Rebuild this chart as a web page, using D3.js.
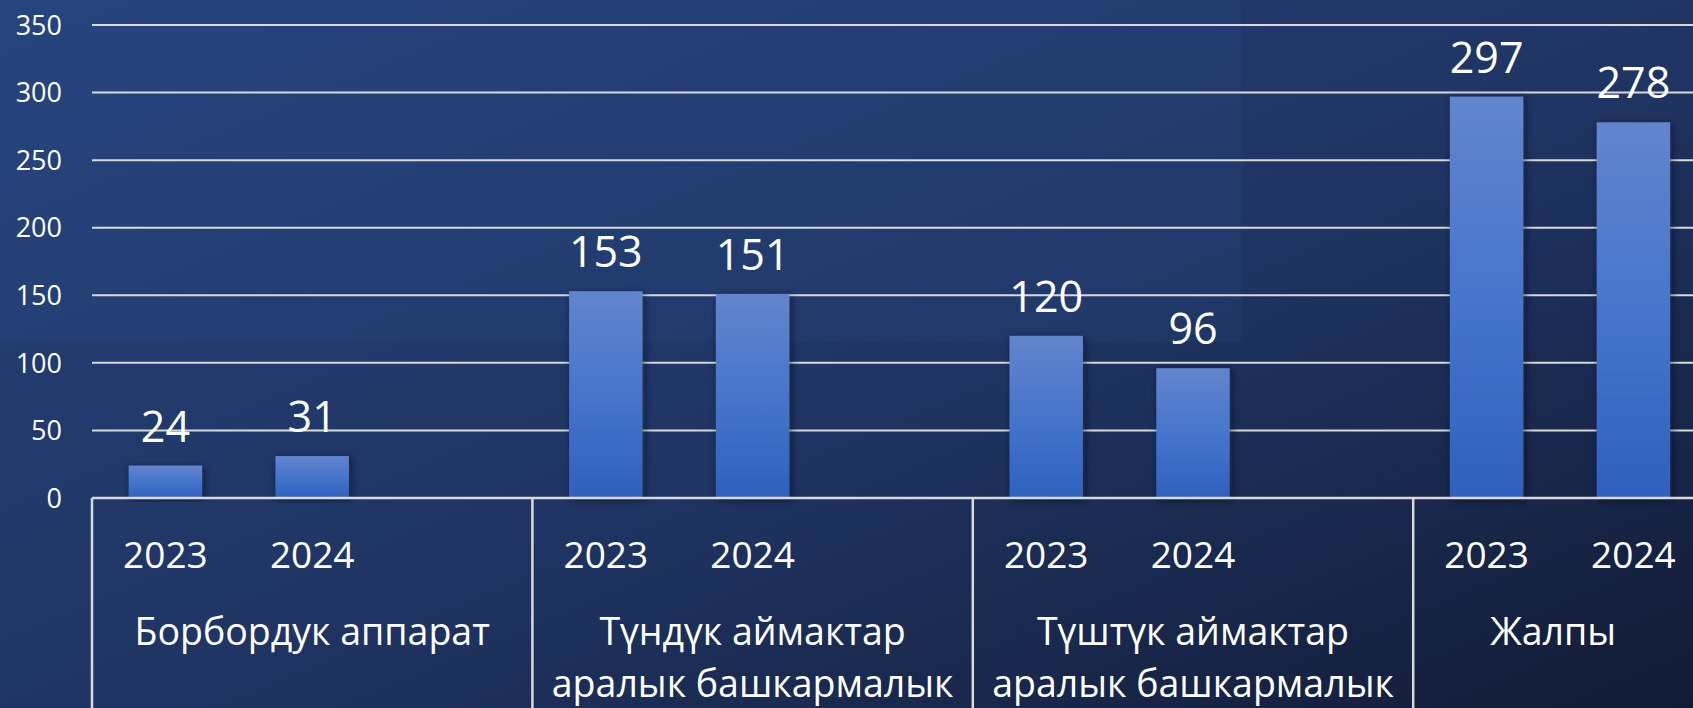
<!DOCTYPE html>
<html>
<head>
<meta charset="utf-8">
<script src="https://cdn.jsdelivr.net/npm/d3@7"></script>
<style>
  html, body { margin: 0; padding: 0; overflow: hidden; background: #1c2f58; }
  text { font-family: "Open Sans", "Noto Sans", sans-serif; fill: #ffffff; }
</style>
</head>
<body>
<div id="chart"></div>
<script>
// chart data
const categories = ["Борбордук аппарат", "Түндүк аймактар|аралык башкармалык", "Түштүк аймактар|аралык башкармалык", "Жалпы"];
const years = ["2023", "2024", ""];   // third slot is empty in the original chart
const values2023 = [24, 153, 120, 297];
const values2024 = [31, 151, 96, 278];
const yTicks = [0, 50, 100, 150, 200, 250, 300, 350];

const width = 1693, height = 708;
const left = 92, slotW = 146.8;
const right = left + slotW * years.length * categories.length;   // runs past the window, like the original
const yTop = 25, yBase = 498;

var svg = d3.select("#chart").append("svg")
    .attr("width", width)
    .attr("height", height);

var defs = svg.append("defs");

//background gradient
var bg = defs.append("linearGradient").attr("id", "bg")
    .attr("x1", 0).attr("y1", 0).attr("x2", 1).attr("y2", 1);
bg.append("stop").attr("offset", 0).attr("stop-color", "#25417a");
bg.append("stop").attr("offset", 0.55).attr("stop-color", "#1f3462");
bg.append("stop").attr("offset", 1).attr("stop-color", "#121b35");

//bar gradient
var barGrad = defs.append("linearGradient").attr("id", "barGrad")
    .attr("x1", 0).attr("y1", 0).attr("x2", 0).attr("y2", 1);
barGrad.append("stop").attr("offset", 0).attr("stop-color", "#6285cd");
barGrad.append("stop").attr("offset", 0.5).attr("stop-color", "#4675cb");
barGrad.append("stop").attr("offset", 1).attr("stop-color", "#2f60bd");

var shadow = defs.append("filter").attr("id", "shadow")
    .attr("x", "-30%").attr("y", "-10%").attr("width", "160%").attr("height", "120%");
shadow.append("feDropShadow")
    .attr("dx", 2).attr("dy", 2).attr("stdDeviation", 4)
    .attr("flood-color", "#0a1226").attr("flood-opacity", 0.6);

svg.append("rect").attr("width", width).attr("height", height).attr("fill", "url(#bg)");
//lighter panel in the top left of the slide
svg.append("rect").attr("x", 0).attr("y", 0).attr("width", 1241).attr("height", 342)
    .attr("fill", "#3a64a8").attr("opacity", 0.11);

//scales
var xGroup = d3.scaleBand()
    .domain(categories)
    .range([left, right]);

var xSlot = d3.scaleBand()
    .domain(years.map((d, i) => i))
    .range([0, xGroup.bandwidth()])
    .paddingInner(0.5)
    .paddingOuter(0.25);

var y = d3.scaleLinear()
    .domain([0, 350])
    .range([yBase, yTop]);

//gridlines
svg.append("g")
    .selectAll("line")
    .data(yTicks.filter(d => d > 0))
    .enter()
    .append("line")
        .attr("x1", left)
        .attr("x2", width)
        .attr("y1", d => y(d))
        .attr("y2", d => y(d))
        .attr("stroke", "#d9d9d9")
        .attr("stroke-width", 2);

//y axis labels
svg.append("g")
    .selectAll("text")
    .data(yTicks)
    .enter()
    .append("text")
        .attr("x", 62)
        .attr("y", d => y(d))
        .attr("dy", "0.36em")
        .attr("text-anchor", "end")
        .style("font-size", "27px")
        .text(d => d);

//bars, one object per bar
const bars = [];
categories.forEach(function(c, i) {
    bars.push({ cat: c, slot: 0, year: years[0], value: values2023[i] });
    bars.push({ cat: c, slot: 1, year: years[1], value: values2024[i] });
});

svg.append("g")
    .selectAll("rect")
    .data(bars)
    .enter()
    .append("rect")
        .attr("x", d => xGroup(d.cat) + xSlot(d.slot))
        .attr("y", d => y(d.value))
        .attr("width", xSlot.bandwidth())
        .attr("height", d => yBase - y(d.value))
        .attr("fill", "url(#barGrad)")
        .attr("filter", "url(#shadow)");

//value labels
svg.append("g")
    .selectAll("text")
    .data(bars)
    .enter()
    .append("text")
        .attr("x", d => xGroup(d.cat) + xSlot(d.slot) + xSlot.bandwidth() / 2)
        .attr("y", d => y(d.value) - 24)
        .attr("text-anchor", "middle")
        .style("font-size", "43px")
        .text(d => d.value);

//category axis box
var axis = svg.append("g");
axis.append("line")
    .attr("x1", left).attr("x2", width)
    .attr("y1", yBase).attr("y2", yBase)
    .attr("stroke", "#d9d9d9").attr("stroke-width", 2.5);

axis.selectAll(".sep")
    .data(categories)
    .enter()
    .append("line")
        .attr("class", "sep")
        .attr("x1", d => xGroup(d)).attr("x2", d => xGroup(d))
        .attr("y1", yBase).attr("y2", height)
        .attr("stroke", "#d9d9d9").attr("stroke-width", 2.5);

//year labels
axis.selectAll(".year")
    .data(bars)
    .enter()
    .append("text")
        .attr("class", "year")
        .attr("x", d => xGroup(d.cat) + xSlot(d.slot) + xSlot.bandwidth() / 2)
        .attr("y", 568)
        .attr("text-anchor", "middle")
        .style("font-size", "37px")
        .text(d => d.year);

//category labels (may wrap to two lines), centred on the visible part of each group
axis.selectAll(".cat")
    .data(categories)
    .enter()
    .append("text")
        .attr("class", "cat")
        .attr("text-anchor", "middle")
        .style("font-size", "37.5px")
        .each(function(d) {
            var x0 = xGroup(d);
            var x1 = Math.min(x0 + xGroup.bandwidth(), width);
            var lines = d.split("|");
            var t = d3.select(this);
            lines.forEach(function(line, k) {
                t.append("tspan")
                    .attr("x", (x0 + x1) / 2)
                    .attr("y", 645 + k * 52)
                    .text(line);
            });
        });
</script>
</body>
</html>
